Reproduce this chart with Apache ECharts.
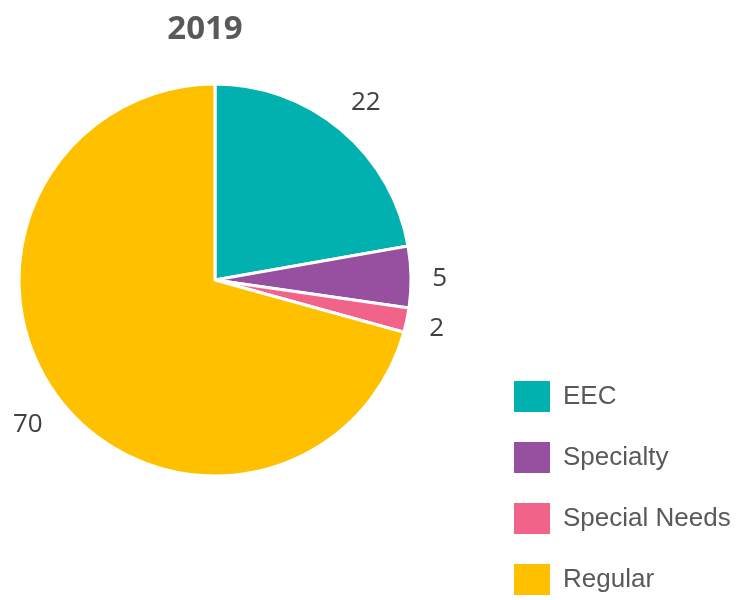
<!DOCTYPE html>
<html>
<head>
<meta charset="utf-8">
<script src="https://cdn.jsdelivr.net/npm/echarts@6/dist/echarts.min.js"></script>
<style>
  html, body { margin: 0; padding: 0; background: #fff; }
  #chart { width: 736px; height: 600px; }
</style>
</head>
<body>
<div id="chart"></div>
<script>
// pie data
const title = '2019'
const categories = ['EEC', 'Specialty', 'Special Needs', 'Regular']
const values = [22, 5, 2, 70]
const colors = ['#00B1AF', '#974F9F', '#F2638A', '#FFC000']

const CX = 215
const CY = 280
const R = 196
const LABEL_GAP = 21
const GLYPH_H = 21

const chart = echarts.init(document.getElementById('chart'))

// mid angle of each slice, clockwise from 12 o'clock
function midAngle(idx) {
  const total = values.reduce((a, b) => a + b, 0)
  let before = 0
  for (let i = 0; i < idx; i++) before += values[i]
  return (before + values[idx] / 2) / total * Math.PI * 2
}

// put each label just past the rim, box edge at a fixed gap (like excel's outside end)
function placeLabel(params) {
  const rc = params.labelRect
  const a = midAngle(params.dataIndex)
  const dx = Math.sin(a)
  const dy = -Math.cos(a)
  const ext = Math.abs(dx) * rc.width / 2 + Math.abs(dy) * GLYPH_H / 2
  const d = R + LABEL_GAP + ext
  return {
    x: CX + dx * d,
    y: CY + dy * d + 2,
    align: 'center',
    verticalAlign: 'middle'
  }
}

chart.setOption({
  animation: false,
  color: colors,
  title: {
    text: title,
    left: 200,
    top: 8,
    textAlign: 'center',
    textStyle: {
      fontFamily: 'Open Sans',
      fontWeight: 'bold',
      fontSize: 33,
      color: '#595959'
    }
  },
  legend: {
    orient: 'vertical',
    left: 514,
    top: 381,
    padding: 0,
    icon: 'rect',
    itemWidth: 36,
    itemHeight: 31,
    itemGap: 30,
    itemStyle: { borderWidth: 0 },
    data: categories,
    textStyle: {
      fontFamily: 'Liberation Sans',
      fontSize: 26,
      lineHeight: 31,
      color: '#595959',
      padding: [0, 0, 0, 8]
    }
  },
  series: [{
    type: 'pie',
    center: [CX, CY],
    radius: R,
    startAngle: 90,
    clockwise: true,
    avoidLabelOverlap: false,
    itemStyle: { borderColor: '#fff', borderWidth: 3 },
    label: {
      show: true,
      position: 'outside',
      formatter: '{c}',
      fontFamily: 'Open Sans',
      fontSize: 26,
      color: '#404040',
      distanceToLabelLine: 0
    },
    labelLine: { show: false, length: 20, length2: 0 },
    labelLayout: placeLabel,
    emphasis: { disabled: true },
    data: categories.map((name, i) => ({ name: name, value: values[i] }))
  }]
})
</script>
</body>
</html>
